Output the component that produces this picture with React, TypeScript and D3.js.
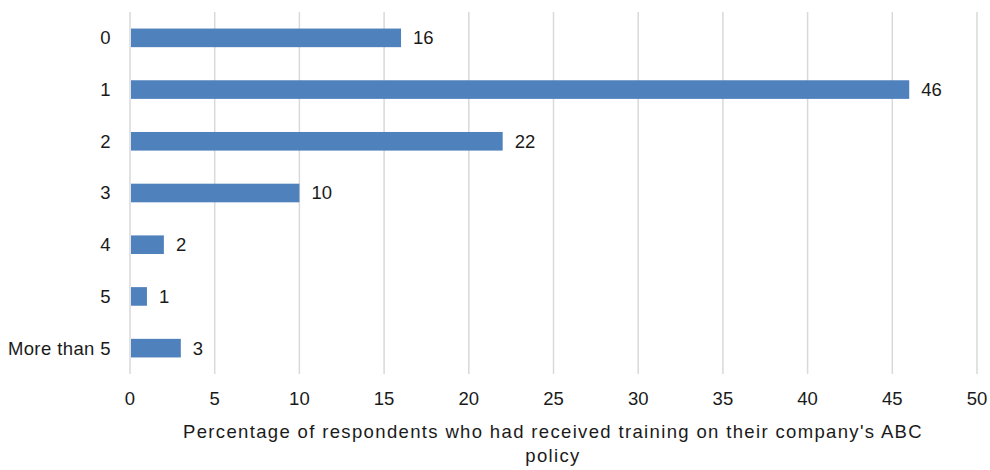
import React from "react";
import * as d3 from "d3";

const categories = ["0", "1", "2", "3", "4", "5", "More than 5"];
const values = [16, 46, 22, 10, 2, 1, 3];
const xTicks = [0, 5, 10, 15, 20, 25, 30, 35, 40, 45, 50];
const xTitleLines = ["Percentage of respondents who had received training on their company's ABC", "policy"];

export default function App() {
  const width = 990;
  const height = 470;
  const left = 130;
  const right = 977;
  const top = 12;
  const bottom = 374;
  const font = "'Liberation Sans', Arial, Helvetica, sans-serif";
  const fs = 18.5;

  const x = d3.scaleLinear().domain([0, 50]).range([left, right]);
  const y = d3.scaleBand().domain(categories).range([top, bottom]).paddingInner(0.64).paddingOuter(0.32);

  return (
    <svg width={width} height={height} style={{ position: "absolute", left: 0, top: 0 }}>
      <rect width={width} height={height} fill="#fff" />
      {xTicks.map((t) => (
        <line key={t} x1={x(t)} x2={x(t)} y1={top} y2={bottom} stroke="#d9d9d9" strokeWidth={1.5} />
      ))}
      {categories.map((c, i) => (
        <g key={c}>
          <rect x={x(0) + 1} y={y(c)!} width={x(values[i]) - x(0) - 1} height={y.bandwidth()} fill="#4f81bd" />
          <text
            x={x(values[i]) + 12}
            y={y(c)! + y.bandwidth() / 2}
            dy="0.35em"
            fontFamily={font}
            fontSize={fs}
            fill="#1a1a1a"
          >
            {values[i]}
          </text>
          <text
            x={111}
            y={y(c)! + y.bandwidth() / 2}
            dy="0.35em"
            textAnchor="end"
            fontFamily={font}
            fontSize={fs}
            letterSpacing={0.4}
            fill="#1a1a1a"
          >
            {c}
          </text>
        </g>
      ))}
      {xTicks.map((t) => (
        <text key={t} x={x(t)} y={399} dy="0.35em" textAnchor="middle" fontFamily={font} fontSize={fs} fill="#1a1a1a">
          {t}
        </text>
      ))}
      {xTitleLines.map((l, i) => (
        <text
          key={i}
          x={(left + right) / 2 - 0.5}
          y={432 + i * 24}
          dy="0.35em"
          textAnchor="middle"
          fontFamily={font}
          fontSize={fs}
          letterSpacing={1.35}
          fill="#1a1a1a"
        >
          {l}
        </text>
      ))}
    </svg>
  );
}
